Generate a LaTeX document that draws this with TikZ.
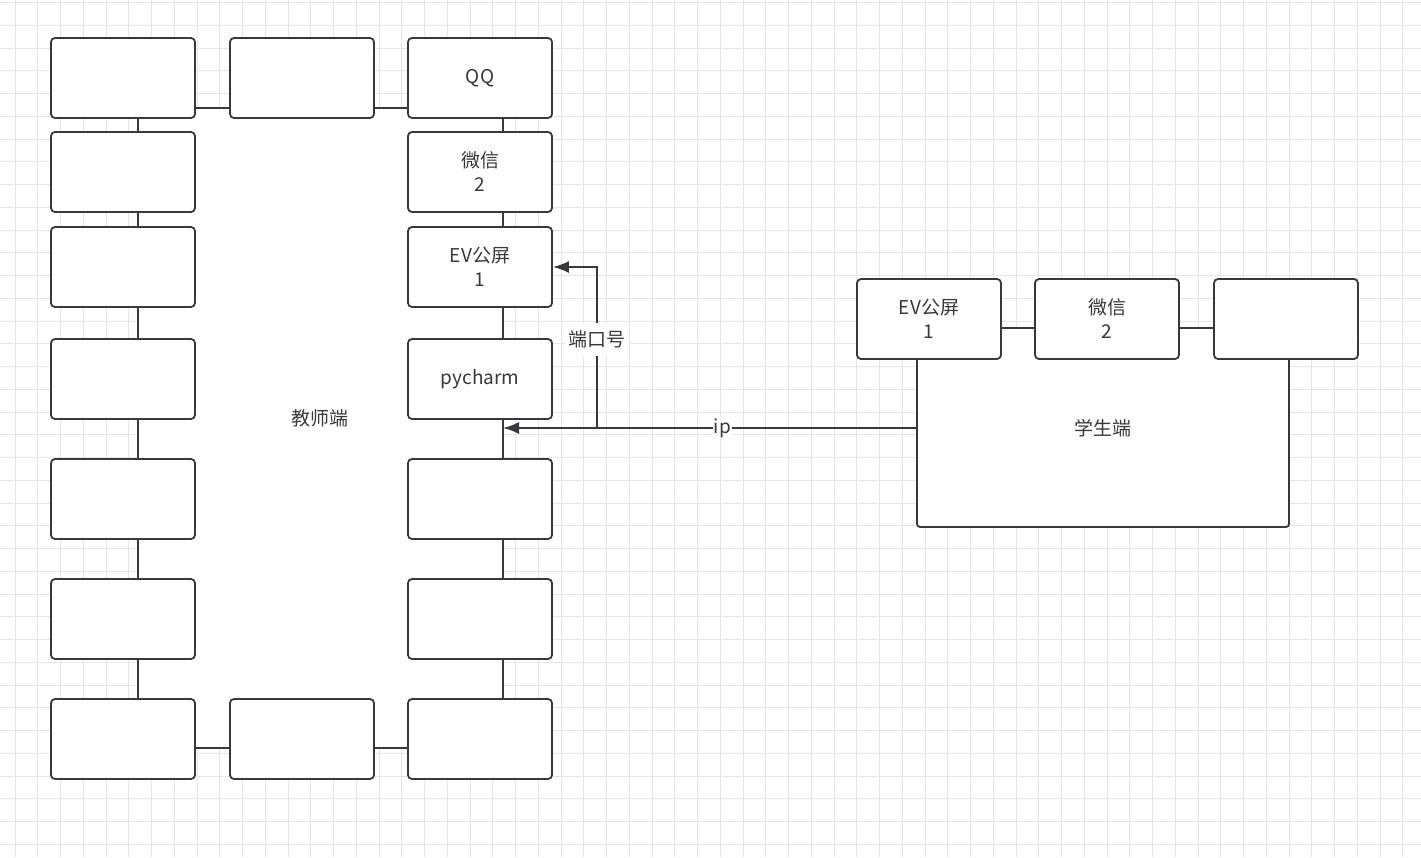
\documentclass[tikz,border=0pt]{standalone}
\usepackage{fontspec}
\setmainfont{Noto Sans CJK SC}
\usetikzlibrary{positioning,arrows.meta}
\definecolor{ink}{HTML}{36393D}
\definecolor{gridc}{HTML}{E6E6E6}
\begin{document}
\begin{tikzpicture}[x=1pt,y=-1pt,
    box/.style={rectangle, rounded corners=4pt, draw=ink, line width=1.8pt, fill=white,
                minimum width=144pt, minimum height=80pt, align=center, text=ink,
                font=\fontsize{19}{24}\selectfont, inner sep=0pt},
    frame/.style={draw=ink, line width=1.8pt, fill=white, rounded corners=3pt},
    link/.style={draw=ink, line width=1.8pt, -{Latex[length=16pt,width=12pt]}},
    label/.style={text=ink, font=\fontsize{19}{24}\selectfont}
]
\useasboundingbox (0,0) rectangle (1421,857);
\fill[white] (0,0) rectangle (1421,857);

% Grid
\foreach \k in {0,...,62} {
    \draw[gridc, line width=1pt] (15+\k*22.75,0) -- (15+\k*22.75,857);
}
\foreach \k in {0,...,37} {
    \draw[gridc, line width=1pt] (0,2.5+\k*22.75) -- (1421,2.5+\k*22.75);
}

% Teacher side
\draw[frame, rounded corners=0pt] (138,108) rectangle (503,748);
\node[label] (teacher) at (320,418) {教师端};

\node[box] (t_top_l) at (123,78) {};
\node[box] (t_top_m) at (302,78) {};
\node[box] (qq) at (480,78) {QQ};
\node[box] (t_l1) at (123,172) {};
\node[box] (t_l2) at (123,267) {};
\node[box] (t_l3) at (123,379) {};
\node[box] (t_l4) at (123,499) {};
\node[box] (t_l5) at (123,619) {};
\node[box] (t_bot_l) at (123,739) {};
\node[box] (t_bot_m) at (302,739) {};
\node[box] (t_bot_r) at (480,739) {};
\node[box] (wechat) at (480,172) {微信\\2};
\node[box] (ev) at (480,267) {EV公屏\\1};
\node[box] (pycharm) at (480,379) {pycharm};
\node[box] (t_r4) at (480,499) {};
\node[box] (t_r5) at (480,619) {};

% Student side
\draw[frame] (917,328) rectangle (1289,527);
\node[label] (student) at (1103,428) {学生端};
\node[box] (s_ev) at (929,319) {EV公屏\\1};
\node[box] (s_wechat) at (1107,319) {微信\\2};
\node[box] (s_r) at (1286,319) {};

% Arrows
\coordinate (s_in) at (917,428);
\coordinate (t_in) at (503,428);
\coordinate (bend) at (597,428);
\draw[link] (s_in) -- node[label, fill=white, inner sep=1pt, pos=0.47] {ip} (t_in);
\draw[link] (bend) -- node[label, fill=white, inner ysep=8pt, pos=0.55] {端口号} (bend |- ev.east) -- (ev.east);

\end{tikzpicture}
\end{document}
